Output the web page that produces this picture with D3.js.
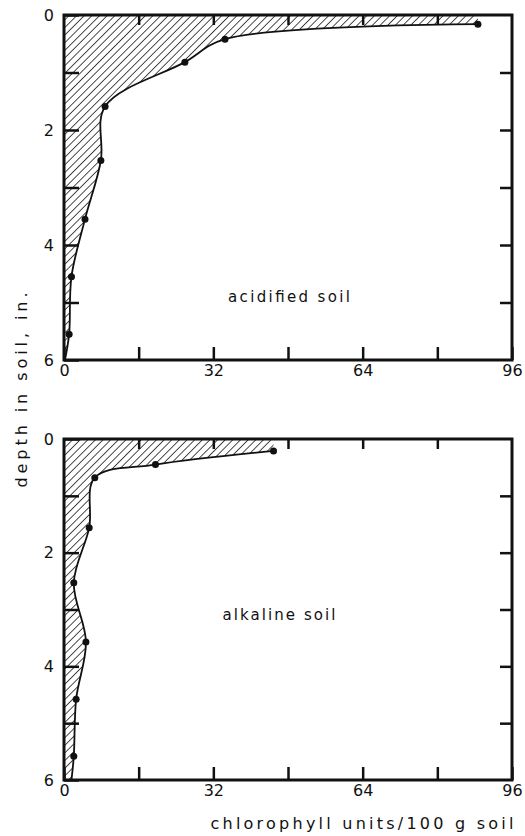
<!DOCTYPE html>
<html>
<head>
<meta charset="utf-8">
<script src="https://cdn.jsdelivr.net/npm/d3@7"></script>
<style>
    body { margin: 0; background: #fff; }
    text { font-family: "DejaVu Sans", sans-serif; fill: #111; }
    .tick line { stroke: #111; stroke-width: 2.5; }
    .frame { fill: none; stroke: #111; stroke-width: 3; }
    .curve { fill: none; stroke: #111; stroke-width: 1.8; }
    .dot { fill: #111; }
</style>
</head>
<body>
<svg id="chart" width="525" height="836"></svg>
<script>
"use strict";

// axis values
var depth_ticks = [0, 1, 2, 3, 4, 5, 6];
var depth_labels = [0, 2, 4, 6];
var chl_ticks = [0, 16, 32, 48, 64, 80, 96];
var chl_labels = [0, 32, 64, 96];

// acidified soil: measured points
var acid_depth = [0.16, 0.42, 0.82, 1.59, 2.53, 3.55, 4.55, 5.55];
var acid_chl = [88.7, 34.5, 25.9, 8.8, 7.9, 4.5, 1.6, 1.1];
var acid_end = 0.2;   // where the drawn line meets depth 6

// alkaline soil: measured points
var alk_depth = [0.21, 0.45, 0.68, 1.56, 2.53, 3.57, 4.58, 5.58];
var alk_chl = [44.9, 19.6, 6.6, 5.4, 2.1, 4.7, 2.6, 2.1];
var alk_end = 1.6;

var panels = [
    { name: "acidified soil", depth: acid_depth, chl: acid_chl, end: acid_end,
      top: 15, bottom: 360, label_x: 289, label_y: 302, label_len: 122 },
    { name: "alkaline soil", depth: alk_depth, chl: alk_chl, end: alk_end,
      top: 439, bottom: 780, label_x: 279, label_y: 620, label_len: 113 }
];

var svg = d3.select("#chart");
var left = 64, right = 512;

// hatch pattern
svg.append("defs").append("pattern")
    .attr("id", "hatch")
    .attr("patternUnits", "userSpaceOnUse")
    .attr("width", 5.4)
    .attr("height", 10)
    .attr("patternTransform", "rotate(45)")
    .append("line")
    .attr("x1", 0).attr("y1", 0)
    .attr("x2", 0).attr("y2", 10)
    .attr("stroke", "#000")
    .attr("stroke-width", 1.4);

var x = d3.scaleLinear().domain([0, 96]).range([left, right]);

panels.forEach(function (p) {
    var y = d3.scaleLinear().domain([0, 6]).range([p.top, p.bottom]);
    var g = svg.append("g");

    var pts = p.depth.map(function (d, i) { return [p.chl[i], d]; });
    var line_pts = pts.concat([[p.end, 6]]);

    var line = d3.line()
        .x(function (d) { return x(d[0]); })
        .y(function (d) { return y(d[1]); })
        .curve(d3.curveCatmullRom.alpha(0.5));

    // shaded area: top axis, left axis and the curve
    var curve_d = line(line_pts);
    var area_d = "M" + x(0) + "," + y(0) +
        "L" + x(pts[0][0]) + "," + y(0) +
        "L" + curve_d.slice(1) +
        "L" + x(0) + "," + y(6) + "Z";
    g.append("path")
        .attr("d", area_d)
        .attr("fill", "url(#hatch)");

    g.append("path")
        .attr("class", "curve")
        .attr("d", curve_d);

    g.selectAll("circle")
        .data(pts)
        .enter().append("circle")
        .attr("class", "dot")
        .attr("cx", function (d) { return x(d[0]); })
        .attr("cy", function (d) { return y(d[1]); })
        .attr("r", 3.5);

    // axes, ticks pointing inward
    var fmt_y = function (d) { return depth_labels.indexOf(d) >= 0 ? d : ""; };
    var fmt_x = function (d) { return chl_labels.indexOf(d) >= 0 ? d : ""; };

    g.append("g")
        .attr("transform", "translate(" + left + ",0)")
        .call(d3.axisLeft(y).tickValues(depth_ticks).tickSize(-15).tickPadding(10).tickFormat(fmt_y));
    g.append("g")
        .attr("transform", "translate(" + right + ",0)")
        .call(d3.axisRight(y).tickValues(depth_ticks.slice(1, -1)).tickSize(-12).tickFormat(""));
    g.append("g")
        .attr("transform", "translate(0," + p.bottom + ")")
        .call(d3.axisBottom(x).tickValues(chl_ticks).tickSize(-13).tickPadding(5).tickFormat(fmt_x));
    g.append("g")
        .attr("transform", "translate(0," + p.top + ")")
        .call(d3.axisTop(x).tickValues(chl_ticks.slice(1, -1)).tickSize(-10).tickFormat(""));

    g.selectAll(".domain").remove();
    g.selectAll(".tick text")
        .attr("font-family", "DejaVu Sans, sans-serif")
        .attr("font-size", 16)
        .attr("fill", "#111");

    g.append("rect")
        .attr("class", "frame")
        .attr("x", left)
        .attr("y", p.top)
        .attr("width", right - left)
        .attr("height", p.bottom - p.top);

    g.append("text")
        .attr("x", p.label_x)
        .attr("y", p.label_y)
        .attr("text-anchor", "middle")
        .attr("font-size", 15)
        .attr("textLength", p.label_len)
        .attr("lengthAdjust", "spacing")
        .text(p.name);
});

// axis titles
svg.append("text")
    .attr("transform", "translate(27,390) rotate(-90)")
    .attr("text-anchor", "middle")
    .attr("font-size", 16)
    .attr("textLength", 195)
    .attr("lengthAdjust", "spacing")
    .text("depth in soil, in.");

svg.append("text")
    .attr("x", 362)
    .attr("y", 829)
    .attr("text-anchor", "middle")
    .attr("font-size", 16)
    .attr("textLength", 303)
    .attr("lengthAdjust", "spacing")
    .text("chlorophyll units/100 g soil");
</script>
</body>
</html>
